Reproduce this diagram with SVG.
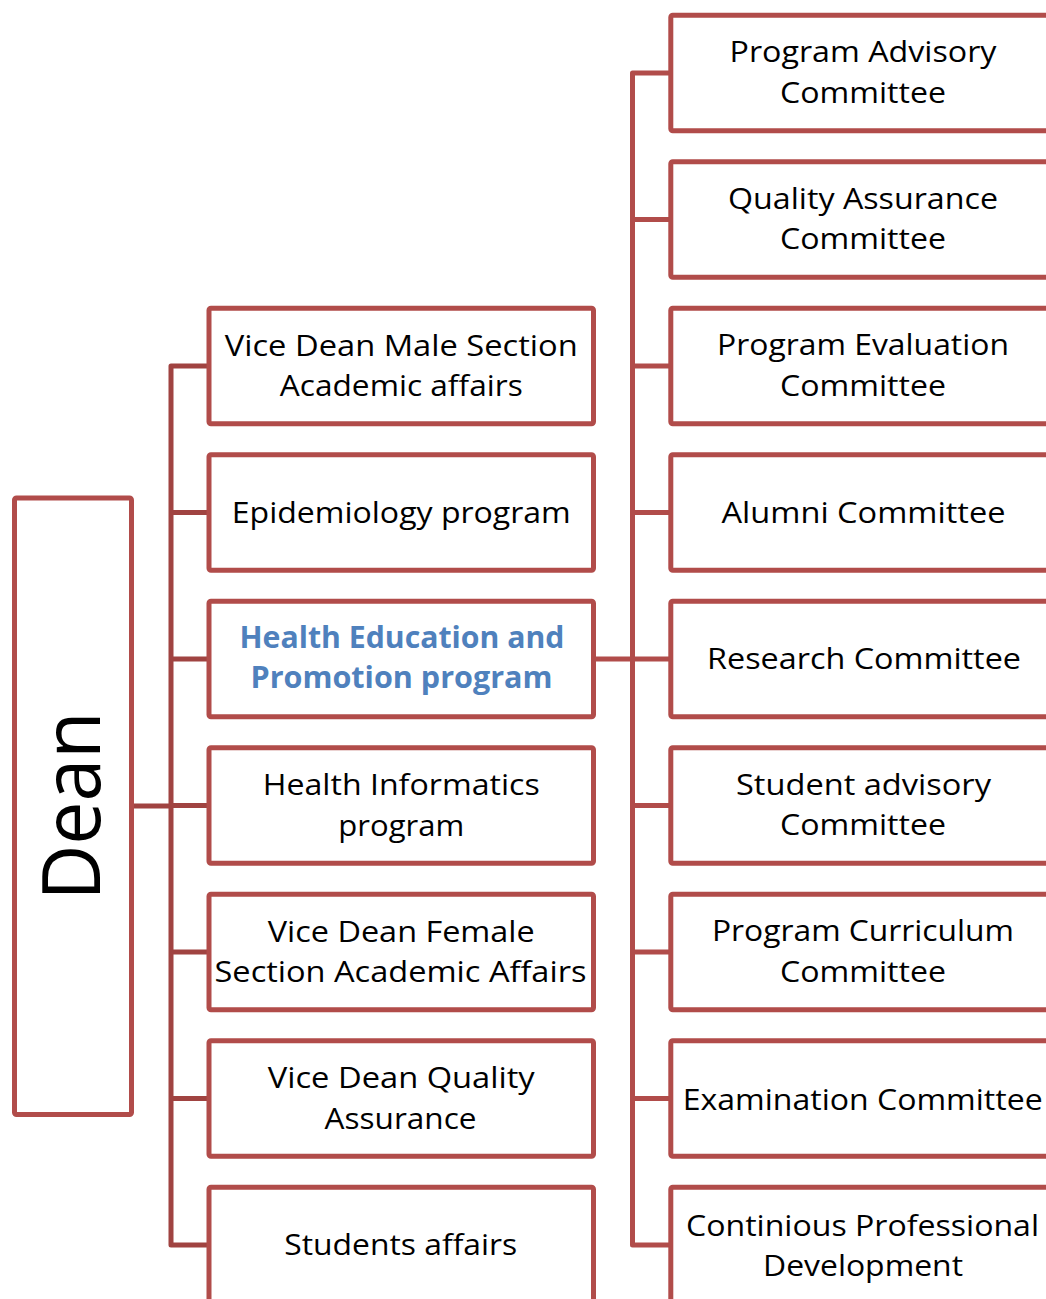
<svg xmlns="http://www.w3.org/2000/svg" width="1046" height="1299" viewBox="0 0 1046 1299">
<style>
.box{fill:#ffffff;stroke:#b14c4a;stroke-width:5}
.conn{fill:none;stroke:#b14c4a;stroke-width:5;stroke-linejoin:round}
.conn2{fill:none;stroke:#a04341;stroke-width:5;stroke-linejoin:round}
text{font-family:"Open Sans","Liberation Sans",sans-serif;font-size:29.5px;fill:#000000;text-anchor:middle}
.hl{font-weight:bold;fill:#4f81bd}
.dean{font-size:81px}
</style>
<rect width="1046" height="1299" fill="#ffffff"/>
<g id="connectors">
<path class="conn2" d="M131.5 806 H171 M209 366 H171 V1245 H209 M171 512.5 H209 M171 659 H209 M171 805.5 H209 M171 952 H209 M171 1098.5 H209"/>
<path class="conn" d="M593.5 659 H670.8 M670.8 73 H632.5 V1245 H670.8 M632.5 219.5 H670.8 M632.5 366 H670.8 M632.5 512.5 H670.8 M632.5 805.5 H670.8 M632.5 952 H670.8 M632.5 1098.5 H670.8"/>
</g>
<g id="dean">
<rect class="box" x="14.5" y="498" width="117" height="616.5" rx="2"/>
<text class="dean" transform="translate(100,806) rotate(-90)" textLength="189" lengthAdjust="spacingAndGlyphs">Dean</text>
</g>
<g id="vd-male">
<rect class="box" x="209" y="308.3" width="384.5" height="115.5" rx="2"/>
<text x="401.25" y="355.8" textLength="353" lengthAdjust="spacingAndGlyphs">Vice Dean Male Section</text>
<text x="401.25" y="396.3" textLength="243" lengthAdjust="spacingAndGlyphs">Academic affairs</text>
</g>
<g id="epidemiology">
<rect class="box" x="209" y="454.8" width="384.5" height="115.5" rx="2"/>
<text x="401.25" y="522.8" textLength="339" lengthAdjust="spacingAndGlyphs">Epidemiology program</text>
</g>
<g id="health-education">
<rect class="box" x="209" y="601.3" width="384.5" height="115.5" rx="2"/>
<text class="hl" x="402" y="647.8" textLength="325" lengthAdjust="spacingAndGlyphs">Health Education and</text>
<text class="hl" x="401.5" y="688.3" textLength="302" lengthAdjust="spacingAndGlyphs">Promotion program</text>
</g>
<g id="health-informatics">
<rect class="box" x="209" y="747.8" width="384.5" height="115.5" rx="2"/>
<text x="401.25" y="795.3" textLength="277" lengthAdjust="spacingAndGlyphs">Health Informatics</text>
<text x="401.25" y="835.8" textLength="126" lengthAdjust="spacingAndGlyphs">program</text>
</g>
<g id="vd-female">
<rect class="box" x="209" y="894.3" width="384.5" height="115.5" rx="2"/>
<text x="401.25" y="941.8" textLength="267" lengthAdjust="spacingAndGlyphs">Vice Dean Female</text>
<text x="400.5" y="982.3" textLength="372" lengthAdjust="spacingAndGlyphs">Section Academic Affairs</text>
</g>
<g id="vd-quality">
<rect class="box" x="209" y="1040.8" width="384.5" height="115.5" rx="2"/>
<text x="401.25" y="1088.3" textLength="267" lengthAdjust="spacingAndGlyphs">Vice Dean Quality</text>
<text x="400.5" y="1128.8" textLength="152" lengthAdjust="spacingAndGlyphs">Assurance</text>
</g>
<g id="students-affairs">
<rect class="box" x="209" y="1187.3" width="384.5" height="115.5" rx="2"/>
<text x="400.75" y="1255.3" textLength="233" lengthAdjust="spacingAndGlyphs">Students affairs</text>
</g>
<g id="program-advisory">
<rect class="box" x="670.8" y="15.3" width="400" height="115.5" rx="2"/>
<text x="863" y="62.3" textLength="267" lengthAdjust="spacingAndGlyphs">Program Advisory</text>
<text x="863" y="102.8" textLength="166" lengthAdjust="spacingAndGlyphs">Committee</text>
</g>
<g id="quality-assurance">
<rect class="box" x="670.8" y="161.8" width="400" height="115.5" rx="2"/>
<text x="863" y="208.8" textLength="270" lengthAdjust="spacingAndGlyphs">Quality Assurance</text>
<text x="863" y="249.3" textLength="166" lengthAdjust="spacingAndGlyphs">Committee</text>
</g>
<g id="program-evaluation">
<rect class="box" x="670.8" y="308.3" width="400" height="115.5" rx="2"/>
<text x="863" y="355.3" textLength="292" lengthAdjust="spacingAndGlyphs">Program Evaluation</text>
<text x="863" y="395.8" textLength="166" lengthAdjust="spacingAndGlyphs">Committee</text>
</g>
<g id="alumni">
<rect class="box" x="670.8" y="454.8" width="400" height="115.5" rx="2"/>
<text x="863.5" y="522.8" textLength="284" lengthAdjust="spacingAndGlyphs">Alumni Committee</text>
</g>
<g id="research">
<rect class="box" x="670.8" y="601.3" width="400" height="115.5" rx="2"/>
<text x="864" y="669.3" textLength="314" lengthAdjust="spacingAndGlyphs">Research Committee</text>
</g>
<g id="student-advisory">
<rect class="box" x="670.8" y="747.8" width="400" height="115.5" rx="2"/>
<text x="863.5" y="794.8" textLength="255" lengthAdjust="spacingAndGlyphs">Student advisory</text>
<text x="863" y="835.3" textLength="166" lengthAdjust="spacingAndGlyphs">Committee</text>
</g>
<g id="curriculum">
<rect class="box" x="670.8" y="894.3" width="400" height="115.5" rx="2"/>
<text x="863" y="941.3" textLength="302" lengthAdjust="spacingAndGlyphs">Program Curriculum</text>
<text x="863" y="981.8" textLength="166" lengthAdjust="spacingAndGlyphs">Committee</text>
</g>
<g id="examination">
<rect class="box" x="670.8" y="1040.8" width="400" height="115.5" rx="2"/>
<text x="862.7" y="1109.5" textLength="360" lengthAdjust="spacingAndGlyphs">Examination Committee</text>
</g>
<g id="cpd">
<rect class="box" x="670.8" y="1187.3" width="400" height="115.5" rx="2"/>
<text x="862.5" y="1235.5" textLength="353" lengthAdjust="spacingAndGlyphs">Continious Professional</text>
<text x="863" y="1276" textLength="200" lengthAdjust="spacingAndGlyphs">Development</text>
</g>
</svg>
